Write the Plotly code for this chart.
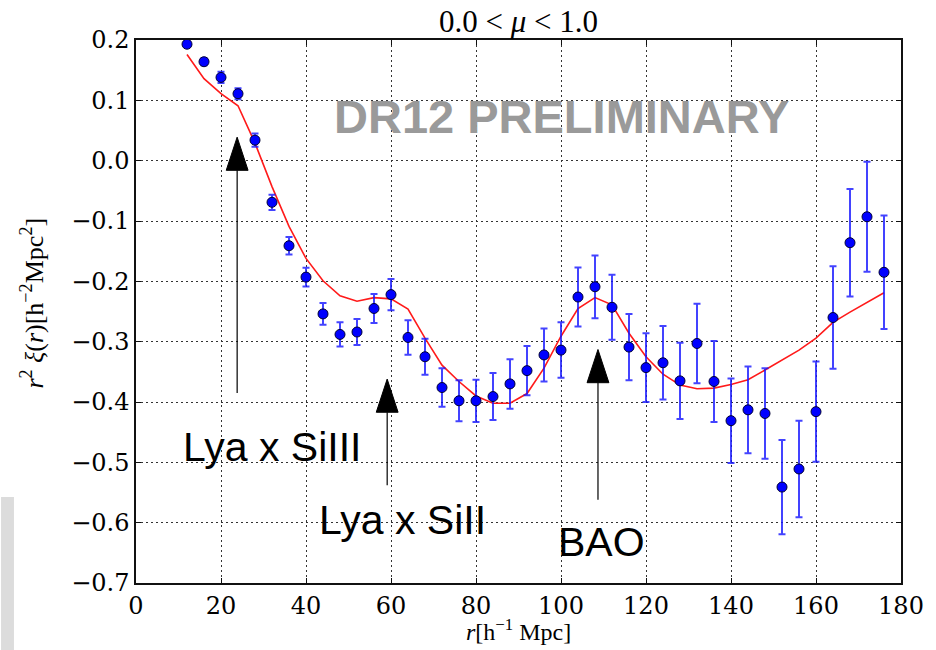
import plotly.graph_objects as go

# Separation bins (h^-1 Mpc)
r_bins = [12, 16, 20, 24, 28, 32, 36, 40, 44, 48, 52, 56, 60, 64, 68, 72, 76, 80, 84, 88, 92,
          96, 100, 104, 108, 112, 116, 120, 124, 128, 132, 136, 140, 144, 148, 152, 156, 160,
          164, 168, 172, 176]

# Measured r^2 xi(r)
xi_data = [0.193, 0.164, 0.138, 0.111, 0.034, -0.069, -0.141, -0.193, -0.254, -0.288, -0.284,
           -0.245, -0.222, -0.293, -0.325, -0.376, -0.398, -0.398, -0.391, -0.370, -0.348,
           -0.322, -0.314, -0.226, -0.209, -0.243, -0.309, -0.343, -0.335, -0.365, -0.303,
           -0.366, -0.431, -0.413, -0.419, -0.541, -0.511, -0.416, -0.260, -0.136, -0.093, -0.185]

# 1-sigma uncertainties
xi_err = [0.004, 0.006, 0.0094, 0.009, 0.011, 0.0127, 0.0144, 0.0155, 0.018, 0.020, 0.0216,
          0.024, 0.026, 0.0285, 0.030, 0.032, 0.034, 0.035, 0.039, 0.041, 0.041, 0.044, 0.046,
          0.049, 0.052, 0.054, 0.055, 0.057, 0.061, 0.063, 0.066, 0.067, 0.070, 0.072, 0.075,
          0.078, 0.080, 0.083, 0.085, 0.089, 0.091, 0.094]

# Best-fit model
xi_model = [0.176, 0.136, 0.111, 0.091, 0.029, -0.043, -0.109, -0.162, -0.199, -0.224, -0.233,
            -0.227, -0.229, -0.246, -0.294, -0.339, -0.366, -0.390, -0.402, -0.402, -0.386,
            -0.344, -0.291, -0.245, -0.227, -0.239, -0.286, -0.325, -0.354, -0.372, -0.378,
            -0.377, -0.371, -0.363, -0.347, -0.330, -0.314, -0.294, -0.268, -0.251, -0.235,
            -0.219]

# Feature markers: position, arrow tip, arrow tail
arrow_r = [23.8, 59.1, 108.7]
arrow_tip = [0.039, -0.362, -0.313]
arrow_tail = [-0.385, -0.538, -0.562]
head_len = 0.055
head_halfwidth = 2.57

# Feature labels
label_text = ["Lya x SiIII", "Lya x SiII", "BAO"]
label_r = [32.2, 62.7, 109.6]
label_y = [-0.474, -0.596, -0.632]

x_ticks = [0, 20, 40, 60, 80, 100, 120, 140, 160, 180]
y_ticks = [0.2, 0.1, 0.0, -0.1, -0.2, -0.3, -0.4, -0.5, -0.6, -0.7]
y_tick_text = ["0.2", "0.1", "0.0", "\u22120.1", "\u22120.2", "\u22120.3", "\u22120.4",
               "\u22120.5", "\u22120.6", "\u22120.7"]

fig = go.Figure()

fig.add_trace(go.Scatter(
    x=r_bins, y=xi_model, mode="lines",
    line=dict(color="#ff1a1a", width=1.6),
    hoverinfo="skip", showlegend=False,
))

fig.add_trace(go.Scatter(
    x=r_bins, y=xi_data, mode="markers",
    marker=dict(color="#0000ff", size=10, line=dict(color="#000033", width=1)),
    error_y=dict(type="data", array=xi_err, visible=True,
                 color="rgba(20,20,255,0.8)", thickness=2, width=3.5),
    showlegend=False,
))

shapes = []
for xa, tip, tail in zip(arrow_r, arrow_tip, arrow_tail):
    base = tip - head_len
    shapes.append(dict(type="line", xref="x", yref="y", x0=xa, x1=xa, y0=tail, y1=base,
                       line=dict(color="black", width=1.2)))
    shapes.append(dict(type="path", xref="x", yref="y",
                       path=f"M {xa - head_halfwidth},{base} L {xa + head_halfwidth},{base} L {xa},{tip} Z",
                       fillcolor="black", line=dict(color="black", width=1)))

# Light grey strip at the lower-left border
shapes.append(dict(type="rect", xref="paper", yref="paper",
                   x0=-136 / 771, x1=-123 / 771, y0=-67 / 543, y1=86 / 543,
                   fillcolor="#dcdcdc", line=dict(width=0), layer="below"))

annotations = []
for t, xa, ya in zip(label_text, label_r, label_y):
    annotations.append(dict(text=t, x=xa, y=ya, xref="x", yref="y", showarrow=False,
                            xanchor="center", yanchor="middle",
                            font=dict(family="Liberation Sans, Arial", size=41, color="black")))

annotations.append(dict(text="<b>DR12 PRELIMINARY</b>", x=100.2, y=0.074, xref="x", yref="y",
                        showarrow=False, xanchor="center", yanchor="middle",
                        font=dict(family="Liberation Sans, Arial", size=47, color="#9a9a9a")))

annotations.append(dict(text="0.0\u00a0<\u00a0<i>\u03bc</i>\u00a0<\u00a01.0",
                        x=0.5, y=1.0, xref="paper", yref="paper", yshift=19,
                        showarrow=False, xanchor="center", yanchor="middle",
                        font=dict(family="Liberation Serif", size=31, color="black")))

annotations.append(dict(text="<i>r</i>[h<sup>\u22121</sup>\u00a0Mpc]",
                        x=0.5, y=-47 / 543, xref="paper", yref="paper",
                        showarrow=False, xanchor="center", yanchor="middle",
                        font=dict(family="Liberation Serif", size=24, color="black")))

annotations.append(dict(text="<i>r</i><sup>2</sup>\u00a0<i>\u03be</i>(<i>r</i>)[h<sup>\u22122</sup>Mpc<sup>2</sup>]",
                        x=-104 / 771, y=0.516, xref="paper", yref="paper", textangle=-90,
                        showarrow=False, xanchor="center", yanchor="middle",
                        font=dict(family="Liberation Serif", size=26, color="black")))

axis_common = dict(
    showline=True, linecolor="#111111", linewidth=1.5, mirror="ticks",
    ticks="inside", ticklen=5, tickwidth=1, tickcolor="#111111",
    showgrid=True, gridcolor="#333333", gridwidth=1, griddash="2px,3px",
    zeroline=False,
    tickfont=dict(family="DejaVu Serif", size=24, color="black"),
)

fig.update_xaxes(range=[0, 180], tickvals=x_ticks, **axis_common)
fig.update_yaxes(range=[-0.7, 0.2], tickvals=y_ticks, ticktext=y_tick_text, **axis_common)

fig.update_layout(
    width=936, height=650,
    margin=dict(l=136, r=29, t=40, b=67),
    paper_bgcolor="white", plot_bgcolor="white",
    shapes=shapes, annotations=annotations,
    showlegend=False,
)

fig.write_html("out.html")
